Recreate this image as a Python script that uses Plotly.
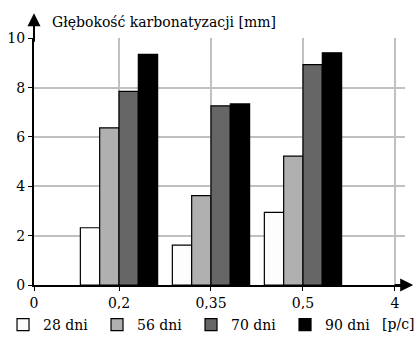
import plotly.graph_objects as go

tick_labels = ["0", "0,2", "0,35", "0,5", "4"]
categories = ["0,2", "0,35", "0,5"]
series_names = ["28 dni", "56 dni", "70 dni", "90 dni"]
v28 = [2.32, 1.62, 2.94]
v56 = [6.37, 3.62, 5.22]
v70 = [7.85, 7.26, 8.93]
v90 = [9.35, 7.34, 9.41]
y_ticks = [0, 2, 4, 6, 8, 10]

series_values = [v28, v56, v70, v90]
colors = ["#fdfdfd", "#b0b0b0", "#666666", "#000000"]
FONT = "DejaVu Serif"
FS = 14

x_pos = [tick_labels.index(c) for c in categories]
tick_pos = list(range(len(tick_labels)))
tick_pos[0] = 0.076

fig = go.Figure()
for name, vals, col in zip(series_names, series_values, colors):
    fig.add_trace(go.Bar(
        x=x_pos, y=vals, name=name,
        marker=dict(color=col, line=dict(color="#000000", width=1.2)),
    ))

fig.update_layout(
    width=419, height=339,
    margin=dict(l=34, r=14, t=38, b=54, autoexpand=False),
    paper_bgcolor="white", plot_bgcolor="white",
    barmode="group", bargap=0.16, bargroupgap=0,
    font=dict(family=FONT, size=FS, color="#000000"),
    showlegend=True,
    legend=dict(orientation="h", x=-0.0835, xanchor="left", y=-0.097, yanchor="top",
                entrywidth=49, entrywidthmode="pixels", traceorder="normal",
                font=dict(family=FONT, size=FS), itemclick=False, tracegroupgap=0),
    xaxis=dict(range=[0.076, 4.109], tickmode="array", tickvals=tick_pos, ticktext=tick_labels,
               showgrid=True, gridcolor="#c0c0c0", gridwidth=1.5, zeroline=False,
               showline=True, linecolor="#000000", linewidth=2, automargin=False,
               ticks="outside", ticklen=4, tickcolor="#000000", tickwidth=1,
               tickfont=dict(family=FONT, size=FS)),
    yaxis=dict(range=[0, 10.01], tickmode="array", tickvals=y_ticks,
               showgrid=True, gridcolor="#c0c0c0", gridwidth=1.5, zeroline=False,
               showline=True, linecolor="#000000", linewidth=2, automargin=False,
               ticks="outside", ticklen=4, tickcolor="#000000", tickwidth=1,
               tickfont=dict(family=FONT, size=FS)),
)

# axis arrows
fig.add_annotation(x=0, y=1.10, xref="paper", yref="paper", ax=0, ay=30,
                   showarrow=True, arrowhead=2, arrowsize=1.3, arrowwidth=2,
                   arrowcolor="#000000", text="")
fig.add_annotation(x=1.022, y=0, xref="paper", yref="paper", ax=-20, ay=0,
                   showarrow=True, arrowhead=2, arrowsize=1.3, arrowwidth=2,
                   arrowcolor="#000000", text="")
fig.add_annotation(x=(50 - 34) / 371, y=(285 - 22) / 247, xref="paper", yref="paper",
                   text="Głębokość karbonatyzacji [mm]", xanchor="left", yanchor="middle",
                   showarrow=False, font=dict(family=FONT, size=FS))
fig.add_annotation(x=(416 - 34) / 371, y=(285 - 324) / 247, xref="paper", yref="paper",
                   text="[p/c]", showarrow=False, xanchor="right", yanchor="middle",
                   font=dict(family=FONT, size=FS))

fig.write_html("out.html", config={"displayModeBar": False},
               post_script="document.body.style.margin='0px';")
